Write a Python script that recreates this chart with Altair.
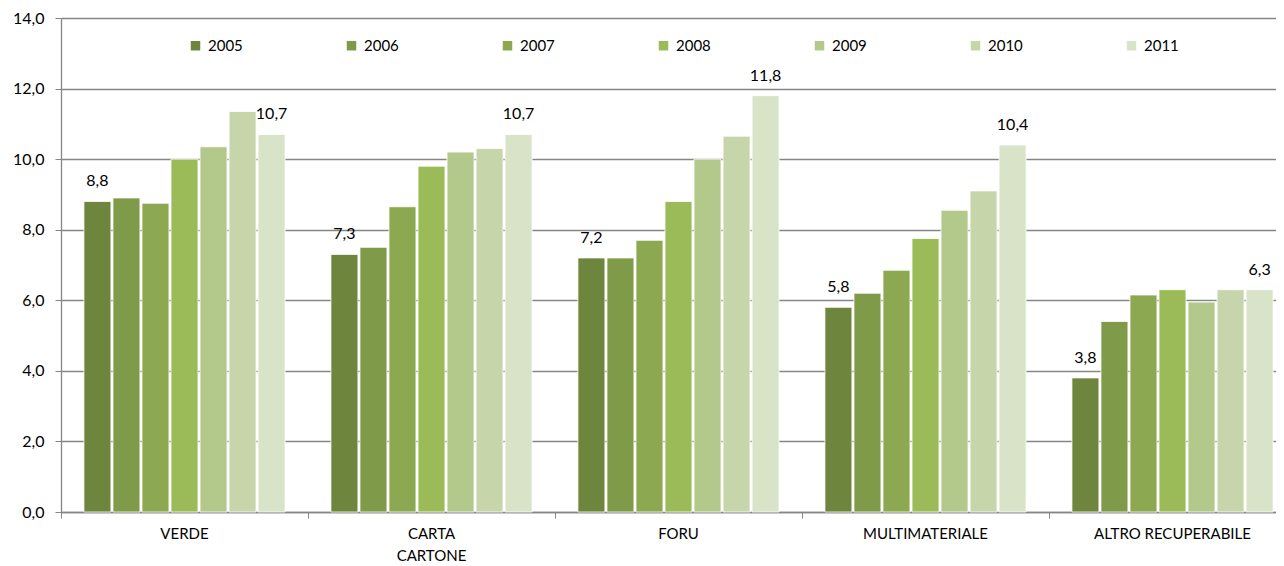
import altair as alt
import pandas as pd

categories = ["VERDE", "CARTA|CARTONE", "FORU", "MULTIMATERIALE", "ALTRO RECUPERABILE"]
years = ["2005", "2006", "2007", "2008", "2009", "2010", "2011"]
v2005 = [8.8, 7.3, 7.2, 5.8, 3.8]
v2006 = [8.9, 7.5, 7.2, 6.2, 5.4]
v2007 = [8.75, 8.65, 7.7, 6.85, 6.15]
v2008 = [10.0, 9.8, 8.8, 7.75, 6.3]
v2009 = [10.35, 10.2, 10.0, 8.55, 5.95]
v2010 = [11.35, 10.3, 10.65, 9.1, 6.3]
v2011 = [10.7, 10.7, 11.8, 10.4, 6.3]
colors = ["#6e853d", "#7f9a48", "#8ca850", "#9bbb59", "#b2c98b", "#c6d6aa", "#d8e3c8"]

series = [v2005, v2006, v2007, v2008, v2009, v2010, v2011]
rows = []
for y, vals in zip(years, series):
    for c, v in zip(categories, vals):
        rows.append({"cat": c, "year": y, "value": v})
df = pd.DataFrame(rows)

FONT = "Lato"

x = alt.X("cat:N", sort=categories, title=None,
          scale=alt.Scale(paddingInner=0, paddingOuter=0),
          axis=alt.Axis(labelExpr="split(datum.label, '|')", labelAngle=0,
                        labelFontSize=15, labelColor="#000000", labelFont=FONT,
                        bandPosition=0, tickSize=6, tickColor="#868686",
                        domainColor="#868686", domainWidth=1.3, labelPadding=8,
                        labelLineHeight=22))
xo = alt.XOffset("year:N", sort=years,
                 scale=alt.Scale(paddingInner=0.07, paddingOuter=0.79))
yenc = alt.Y("value:Q", title=None,
             scale=alt.Scale(domain=[0, 14], nice=False),
             axis=alt.Axis(values=[0, 2, 4, 6, 8, 10, 12, 14],
                           labelExpr="replace(format(datum.value, '.1f'), '.', ',')",
                           labelFontSize=16, labelColor="#000000", labelFont=FONT,
                           gridColor="#868686", gridWidth=1.3, tickSize=6,
                           tickColor="#868686", domainColor="#868686", domainWidth=1.3,
                           labelPadding=11))

bars = alt.Chart(df).mark_bar(stroke="white", strokeWidth=0.8).encode(
    x=x, xOffset=xo, y=yenc,
    color=alt.Color("year:N", sort=years,
                    scale=alt.Scale(domain=years, range=colors),
                    legend=alt.Legend(title=None, orient="none", direction="horizontal",
                                      columns=7, columnPadding=101, legendX=127, legendY=20,
                                      symbolType="square", symbolSize=90, symbolStrokeWidth=0,
                                      labelFontSize=15, labelFont=FONT, labelColor="#000000",
                                      labelOffset=5))
)

labels = alt.Chart(df).transform_filter(
    "datum.year == '2005' || datum.year == '2011'"
).transform_calculate(
    lbl="replace(format(datum.value, '.1f'), '.', ',')"
).mark_text(baseline="bottom", dy=-12, fontSize=16, font=FONT, color="#000000").encode(
    x=alt.X("cat:N", sort=categories), xOffset=alt.XOffset("year:N", sort=years), y="value:Q",
    text="lbl:N"
)

chart = alt.layer(bars, labels).properties(
    width=1235, height=494,
    autosize=alt.AutoSizeParams(type="none"),
    padding={"left": 53, "top": 10, "right": -20, "bottom": 52},
).configure_view(stroke=None).configure_axis(grid=False).configure_axisY(grid=True)

chart.save("out.html", embed_options={"renderer": "svg", "actions": False})
